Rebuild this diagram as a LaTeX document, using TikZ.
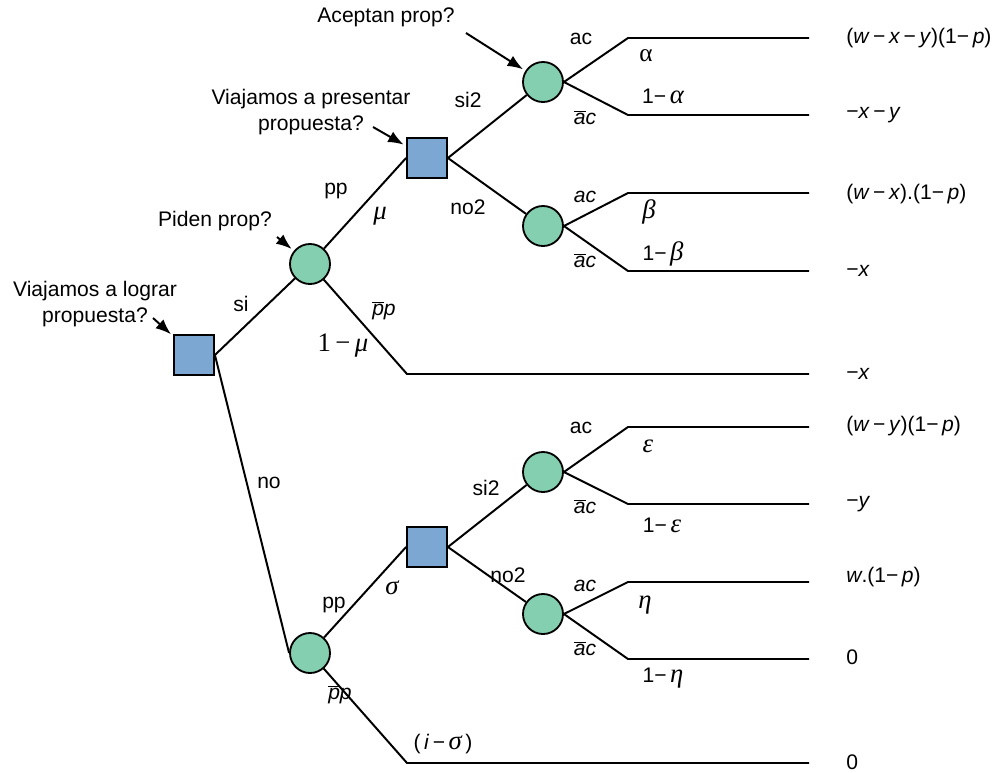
\RequirePackage{fix-cm}
\documentclass[tikz,border=0pt]{standalone}
\usepackage{fontspec}
\setmainfont{Liberation Sans}
\newfontfamily\greekup{Liberation Serif}
\usepackage{tikz}
\usetikzlibrary{positioning,arrows,arrows.meta}

\definecolor{decblue}{RGB}{123,167,210}
\definecolor{chgreen}{RGB}{133,207,177}
\newcommand{\mn}{\,−\,}
\newcommand{\gk}[1]{{\greekup\fontsize{19}{19}\selectfont\itshape #1}}
\newcommand{\barred}[1]{$\overline{\mbox{\itshape #1}}$}

\begin{document}
\begin{tikzpicture}[x=0.025cm, y=-0.025cm,
	dec/.style={rectangle, draw=black, line width=1.3pt, fill=decblue,
		minimum size=1cm, inner sep=0pt},
	chance/.style={circle, draw=black, line width=1.3pt, fill=chgreen,
		minimum size=1cm, inner sep=0pt},
	branch/.style={line width=1.4pt},
	point/.style={-{Latex[length=11pt,width=8.5pt]}, line width=1.4pt, shorten >=2pt},
	note/.style={align=center, inner sep=0pt},
	lab/.style={inner sep=0pt},
	pay/.style={anchor=west, inner sep=0pt},
	font=\fontsize{15}{19}\selectfont
	]
	\useasboundingbox (0,0) rectangle (1008,772);

	% decision and chance nodes
	\node (n) [dec] at (194,355) {};
	\node (c) [chance] at (310,264) {};
	\node (c1) [dec] at (427,158) {};
	\node (c11) [chance] at (543,82) {};
	\node (c12) [chance] at (543,226) {};
	\node (d) [chance] at (310,653) {};
	\node (d1) [dec] at (427,547) {};
	\node (d11) [chance] at (543,472) {};
	\node (d12) [chance] at (543,614) {};

	% kinks and ends of the leaves
	\coordinate (k111) at (628,38);  \coordinate (t111) at (809,38);
	\coordinate (k112) at (628,115); \coordinate (t112) at (809,115);
	\coordinate (k121) at (628,193); \coordinate (t121) at (809,193);
	\coordinate (k122) at (628,271); \coordinate (t122) at (809,271);
	\coordinate (k2) at (407,374);   \coordinate (t2) at (809,374);
	\coordinate (k211) at (628,427); \coordinate (t211) at (809,427);
	\coordinate (k212) at (628,504); \coordinate (t212) at (809,504);
	\coordinate (k221) at (628,582); \coordinate (t221) at (809,582);
	\coordinate (k222) at (628,659); \coordinate (t222) at (809,659);
	\coordinate (k3) at (407,763);   \coordinate (t3) at (809,763);

	% branches
	\draw[branch] (n.east) -- (c);
	\draw[branch] (n.east) -- (d.west);
	\draw[branch] (c) -- (c1.west);
	\draw[branch] (c) -- (k2) -- (t2);
	\draw[branch] (c1.east) -- (c11);
	\draw[branch] (c1.east) -- (c12);
	\draw[branch] (c11.east) -- (k111) -- (t111);
	\draw[branch] (c11.east) -- (k112) -- (t112);
	\draw[branch] (c12.east) -- (k121) -- (t121);
	\draw[branch] (c12.east) -- (k122) -- (t122);
	\draw[branch] (d) -- (d1.west);
	\draw[branch] (d) -- (k3) -- (t3);
	\draw[branch] (d1.east) -- (d11);
	\draw[branch] (d1.east) -- (d12);
	\draw[branch] (d11.east) -- (k211) -- (t211);
	\draw[branch] (d11.east) -- (k212) -- (t212);
	\draw[branch] (d12.east) -- (k221) -- (t221);
	\draw[branch] (d12.east) -- (k222) -- (t222);

	% questions
	\node (qn) [note] at (95,304) {Viajamos a lograr\\propuesta?};
	\node (qc) [note] at (215,221) {Piden prop?};
	\node (qc1) [note] at (311,112) {Viajamos a presentar\\propuesta?};
	\node (qc11) [note] at (386,17) {Aceptan prop?};
	\coordinate (an) at (153,318);
	\coordinate (ac) at (277,237);
	\coordinate (ac1) at (373,127);
	\coordinate (ac11) at (466,33);
	\draw[point] (an) -- (n);
	\draw[point] (ac) -- (c);
	\draw[point] (ac1) -- (c1);
	\draw[point] (ac11) -- (c11);

	% branch labels, upper part
	\node (ls) [lab] at (241,304) {si};
	\node (lpp) [lab] at (336,191) {pp};
	\node (lmu) [lab] at (380,216) {\gk{μ}};
	\node (lnp) [lab] at (384,311) {\barred{p}\textit{p}};
	\node (lnmu) [lab] at (343,346) {{\greekup\fontsize{19}{19}\selectfont 1\,−\,}\gk{μ}};
	\node (ls2) [lab] at (468,100) {si2};
	\node (ln2) [lab] at (468,207) {no2};
	\node (l111) [lab] at (581,39) {ac};
	\node (p111) [lab] at (646,56) {\greekup\fontsize{18}{18}\selectfont α};
	\node (p112) [lab] at (663,96) {1−\,\gk{α}};
	\node (l112) [lab] at (585,118) {\barred{a}\textit{c}};
	\node (l121) [lab] at (585,197) {\textit{ac}};
	\node (p121) [lab] at (649,212) {\gk{β}};
	\node (p122) [lab] at (663,254) {1−\,\gk{β}};
	\node (l122) [lab] at (585,261) {\barred{a}\textit{c}};

	% branch labels, lower part
	\node (lno) [lab] at (269,483) {no};
	\node (lpp2) [lab] at (334,605) {pp};
	\node (lsig) [lab] at (392,588) {\gk{σ}};
	\node (lnp2) [lab] at (340,695) {\barred{p}\textit{p}};
	\node (lnsig) [lab] at (443,744) {(\,\textit{i}\mn\gk{σ}\,)};
	\node (ls22) [lab] at (486,488) {si2};
	\node (ln22) [lab] at (508,575) {no2};
	\node (l211) [lab] at (581,428) {ac};
	\node (p211) [lab] at (648,446) {\gk{ε}};
	\node (l212) [lab] at (585,507) {\barred{a}\textit{c}};
	\node (p212) [lab] at (662,525) {1−\,\gk{ε}};
	\node (l221) [lab] at (585,586) {\textit{ac}};
	\node (p221) [lab] at (645,605) {\gk{η}};
	\node (l222) [lab] at (585,649) {\barred{a}\textit{c}};
	\node (p222) [lab] at (663,678) {1−\,\gk{η}};

	% payoffs
	\node (v111) [pay] at (846,38) {(\textit{w}\mn\textit{x}\mn\textit{y})(1−\,\textit{p})};
	\node (v112) [pay] at (846,115) {−\textit{x}\mn\textit{y}};
	\node (v121) [pay] at (846,194) {(\textit{w}\mn\textit{x}).(1−\,\textit{p})};
	\node (v122) [pay] at (846,271) {−\textit{x}};
	\node (v2) [pay] at (846,374) {−\textit{x}};
	\node (v211) [pay] at (846,426) {(\textit{w}\mn\textit{y})(1−\,\textit{p})};
	\node (v212) [pay] at (846,504) {−\textit{y}};
	\node (v221) [pay] at (846,577) {\textit{w}.(1−\,\textit{p})};
	\node (v222) [pay] at (846,657) {0};
	\node (v3) [pay] at (846,762) {0};
\end{tikzpicture}
\end{document}
